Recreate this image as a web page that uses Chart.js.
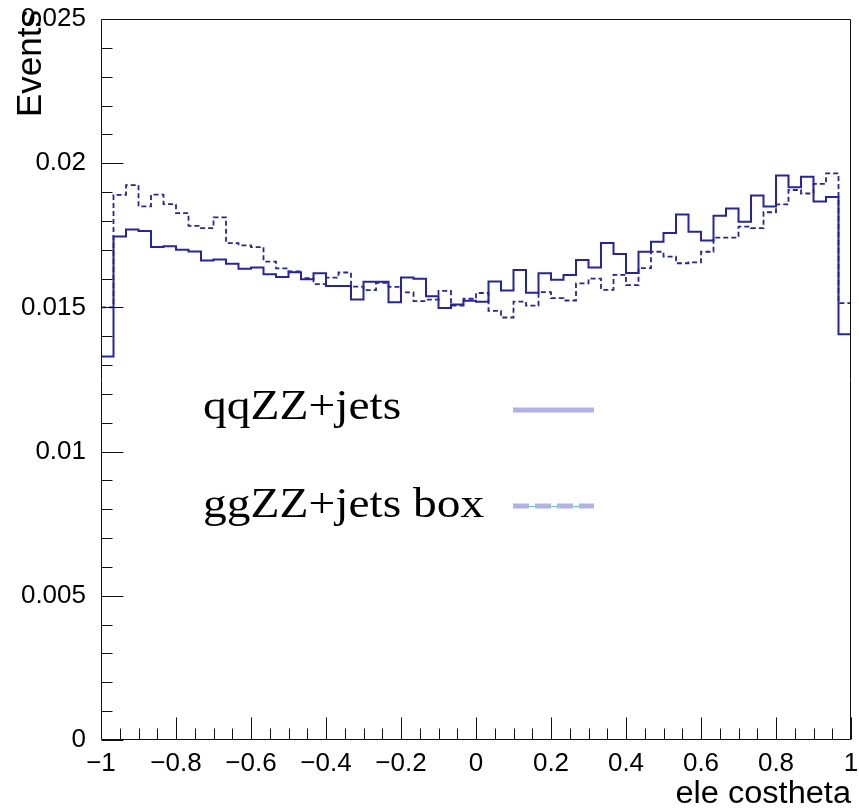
<!DOCTYPE html>
<html>
<head>
<meta charset="utf-8">
<script src="https://cdn.jsdelivr.net/npm/chart.js@4.4.1/dist/chart.umd.min.js"></script>
<style>
  html, body { margin: 0; padding: 0; background: #ffffff; }
  #wrap { width: 859px; height: 808px; }
  canvas { display: block; }
</style>
</head>
<body>
<div id="wrap"><canvas id="c" width="859" height="808"></canvas></div>
<script>
// Histogram binning: 60 equal bins over [-1, 1]
const xMin = -1;
const xMax = 1;
const nBins = 60;

// Axis ranges and labelled ticks
const yMin = 0;
const yMax = 0.025;
const xTickValues = [-1, -0.8, -0.6, -0.4, -0.2, 0, 0.2, 0.4, 0.6, 0.8, 1];
const yTickValues = [0, 0.005, 0.01, 0.015, 0.02, 0.025];

// Normalised bin contents, one per bin
const qqZZ = [
  0.01330, 0.01746, 0.01770, 0.01765, 0.01709, 0.01712, 0.01700, 0.01694, 0.01663, 0.01666,
  0.01651, 0.01634, 0.01638, 0.01615, 0.01605, 0.01622, 0.01598, 0.01618, 0.01574, 0.01574,
  0.01527, 0.01589, 0.01589, 0.01518, 0.01604, 0.01599, 0.01539, 0.01498, 0.01510, 0.01523,
  0.01520, 0.01590, 0.01559, 0.01630, 0.01551, 0.01618, 0.01596, 0.01612, 0.01664, 0.01638,
  0.01723, 0.01685, 0.01619, 0.01693, 0.01728, 0.01758, 0.01822, 0.01762, 0.01732, 0.01818,
  0.01843, 0.01797, 0.01888, 0.01850, 0.01957, 0.01917, 0.01953, 0.01867, 0.01883, 0.01407
];
const ggZZbox = [
  0.01500, 0.01890, 0.01924, 0.01850, 0.01891, 0.01858, 0.01827, 0.01783, 0.01775, 0.01812,
  0.01723, 0.01715, 0.01709, 0.01659, 0.01635, 0.01625, 0.01601, 0.01581, 0.01603, 0.01621,
  0.01572, 0.01560, 0.01585, 0.01571, 0.01552, 0.01522, 0.01527, 0.01557, 0.01506, 0.01530,
  0.01550, 0.01488, 0.01465, 0.01520, 0.01506, 0.01553, 0.01532, 0.01524, 0.01583, 0.01600,
  0.01561, 0.01613, 0.01577, 0.01636, 0.01693, 0.01676, 0.01653, 0.01656, 0.01693, 0.01742,
  0.01742, 0.01780, 0.01775, 0.01830, 0.01857, 0.01907, 0.01895, 0.01928, 0.01965, 0.01515
];

const seriesNames = ['qqZZ+jets', 'ggZZ+jets box'];
const xTitle = 'ele costheta';
const yTitle = 'Events';

const lineColor = '#2424a8';
const legendColor = '#b0b2ea';

// Turn bin contents into step points at each bin's low edge, closing at xMax;
// drawn with horizontal-then-vertical steps
function toSteps(values) {
  const w = (xMax - xMin) / values.length;
  const pts = values.map((v, i) => ({ x: xMin + i * w, y: v }));
  pts.push({ x: xMax, y: values[values.length - 1] });
  return pts;
}

function fmtX(v) {
  const s = String(Number(v.toFixed(1)));
  return s.replace('-', '\u2212');
}
function fmtY(v) {
  if (Math.abs(v) < 1e-12) return '0';
  return String(Number(v.toFixed(3)));
}

// Inward tick marks and the closed frame around the plot
const framePlugin = {
  id: 'frameTicks',
  afterDatasetsDraw(chart) {
    const { ctx, chartArea: a, scales: { x, y } } = chart;
    ctx.save();
    ctx.strokeStyle = '#111';
    ctx.lineWidth = 1;
    const L = Math.round(a.left) + 0.5, R = Math.round(a.right) - 0.5;
    const T = Math.round(a.top) + 0.5, B = Math.round(a.bottom) - 0.5;
    ctx.beginPath();
    ctx.rect(L, T, R - L, B - T);
    ctx.stroke();
    ctx.beginPath();
    // x: major every 0.2, minor every 0.05
    for (let i = 0; i <= 40; i++) {
      const v = xMin + i * 0.05;
      const px = Math.round(x.getPixelForValue(v)) + 0.5;
      const len = (i % 4 === 0) ? 22 : 11;
      ctx.moveTo(px, B);
      ctx.lineTo(px, B - len);
    }
    // y: major every 0.005, minor every 0.001
    for (let i = 0; i <= 25; i++) {
      const v = yMin + i * 0.001;
      const py = Math.round(y.getPixelForValue(v)) + 0.5;
      const len = (i % 5 === 0) ? 22 : 11;
      ctx.moveTo(L, py);
      ctx.lineTo(L + len, py);
    }
    ctx.stroke();
    ctx.restore();
  }
};

// Axis titles and the in-plot legend
const textPlugin = {
  id: 'titlesLegend',
  afterDraw(chart) {
    const { ctx, chartArea: a } = chart;
    ctx.save();
    ctx.fillStyle = '#000';

    // x title, right aligned to the frame
    ctx.save();
    ctx.translate(a.right, 803);
    ctx.scale(1.05, 1);
    ctx.font = '31px "Liberation Sans", Arial, sans-serif';
    ctx.textAlign = 'right';
    ctx.textBaseline = 'alphabetic';
    ctx.fillText(xTitle, 0, 0);
    ctx.restore();

    // y title, rotated, ending at the top of the frame
    ctx.save();
    ctx.translate(41, 10);
    ctx.rotate(-Math.PI / 2);
    ctx.font = '35px "Liberation Sans", Arial, sans-serif';
    ctx.textAlign = 'right';
    ctx.textBaseline = 'alphabetic';
    ctx.fillText(yTitle, 0, 0);
    ctx.restore();

    // legend entries
    const rows = [
      { label: seriesNames[0], base: 419, lineY: 410, dashed: false },
      { label: seriesNames[1], base: 517, lineY: 506, dashed: true }
    ];
    rows.forEach(r => {
      ctx.save();
      ctx.translate(203, r.base);
      ctx.scale(1.13, 1);
      ctx.font = '42px "Liberation Serif", "Times New Roman", serif';
      ctx.textAlign = 'left';
      ctx.fillStyle = '#000';
      ctx.fillText(r.label, 0, 0);
      ctx.restore();

      if (r.dashed) {
        ctx.strokeStyle = '#4fd6c4';
        ctx.lineWidth = 1;
        ctx.beginPath();
        ctx.moveTo(513, r.lineY + 0.5);
        ctx.lineTo(594, r.lineY + 0.5);
        ctx.stroke();
        ctx.strokeStyle = legendColor;
        ctx.lineWidth = 5;
        ctx.setLineDash([16, 6]);
      } else {
        ctx.strokeStyle = legendColor;
        ctx.lineWidth = 5;
      }
      ctx.beginPath();
      ctx.moveTo(513, r.lineY);
      ctx.lineTo(594, r.lineY);
      ctx.stroke();
      ctx.setLineDash([]);
    });
    ctx.restore();
  }
};

const tickFont = { family: '"Liberation Sans", Arial, sans-serif', size: 26 };

new Chart(document.getElementById('c'), {
  type: 'line',
  data: {
    datasets: [
      {
        label: seriesNames[0],
        data: toSteps(qqZZ),
        stepped: 'before',
        borderColor: lineColor,
        borderWidth: 2,
        pointRadius: 0,
        fill: false
      },
      {
        label: seriesNames[1],
        data: toSteps(ggZZbox),
        stepped: 'before',
        borderColor: lineColor,
        borderWidth: 1.8,
        borderDash: [5, 3],
        pointRadius: 0,
        fill: false
      }
    ]
  },
  options: {
    responsive: false,
    animation: false,
    devicePixelRatio: 1,
    layout: { padding: { top: 19, right: 8, left: 0, bottom: 0 } },
    plugins: {
      legend: { display: false },
      tooltip: { enabled: false },
      title: { display: false }
    },
    scales: {
      x: {
        type: 'linear',
        min: xMin,
        max: xMax,
        grid: { display: false },
        border: { display: false },
        afterBuildTicks(s) { s.ticks = xTickValues.map(v => ({ value: v })); },
        afterFit(s) { s.height = 68; s.paddingLeft = 0; s.paddingRight = 0; },
        ticks: {
          autoSkip: false,
          maxRotation: 0,
          minRotation: 0,
          padding: 0,
          color: '#000',
          font: tickFont,
          callback: v => fmtX(v)
        }
      },
      y: {
        type: 'linear',
        min: yMin,
        max: yMax,
        grid: { display: false },
        border: { display: false },
        afterBuildTicks(s) { s.ticks = yTickValues.map(v => ({ value: v })); },
        afterFit(s) { s.width = 101; s.paddingTop = 0; s.paddingBottom = 0; },
        ticks: {
          autoSkip: false,
          padding: 7,
          color: '#000',
          font: tickFont,
          callback: v => fmtY(v)
        }
      }
    }
  },
  plugins: [framePlugin, textPlugin]
});
</script>
</body>
</html>
